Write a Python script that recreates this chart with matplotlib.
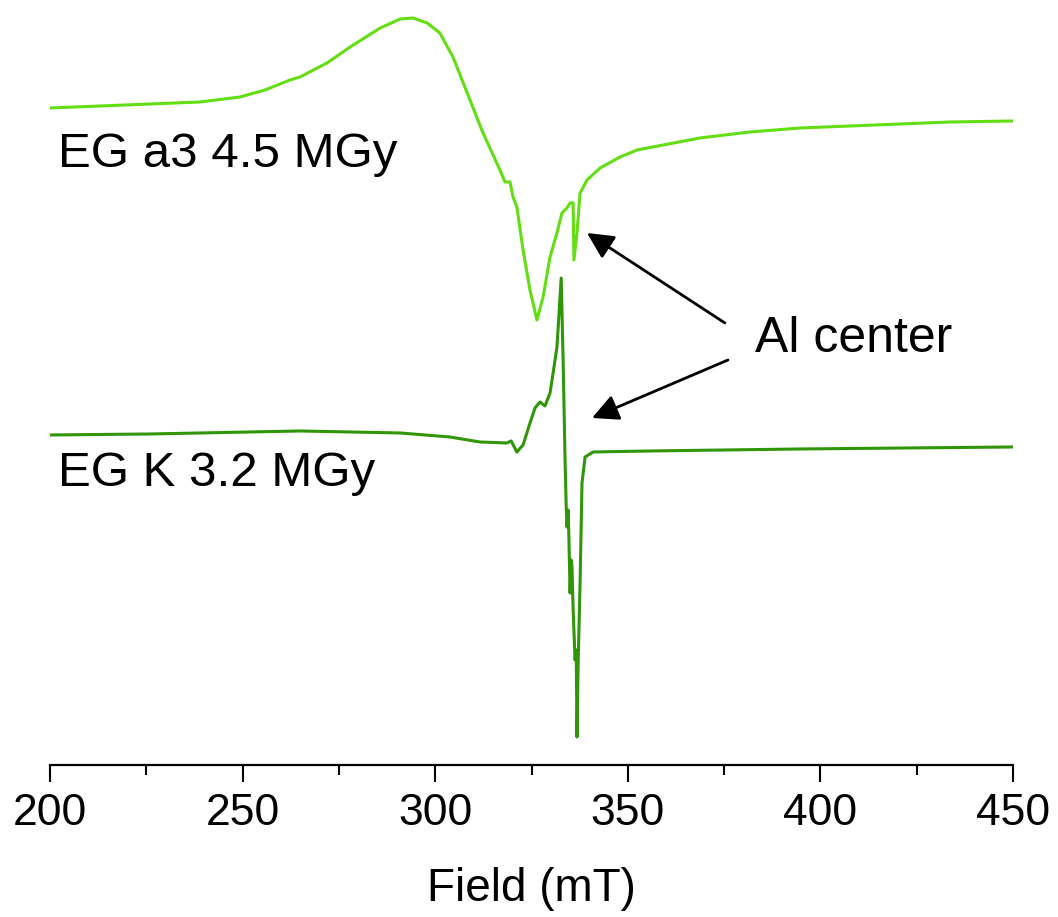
import matplotlib.pyplot as plt

plt.rcParams['font.family'] = ['Liberation Sans', 'DejaVu Sans']

# upper spectrum, EG a3 4.5 MGy (field in mT, intensity in a.u.)
field_a3 = [200.0, 213.0, 226.0, 238.9, 249.3, 255.8, 262.3, 264.9, 271.9, 277.9,
            285.7, 290.9, 294.2, 297.9, 301.2, 304.6, 308.3, 312.4, 316.8, 318.1,
            319.4, 320.2, 321.2, 322.8, 324.6, 326.4, 328.0, 329.8, 331.6, 332.9,
            334.2, 335.0, 335.8, 336.0, 336.8, 337.6, 339.4, 342.8, 348.0, 352.4,
            368.7, 381.7, 394.7, 407.7, 420.7, 433.6, 450.0]
int_a3 = [657, 659, 661, 663, 668, 675, 685, 688, 702, 718,
          737, 746, 747, 742, 732, 708, 672, 632, 595, 583,
          583, 568, 558, 515, 475, 445, 468, 508, 532, 552,
          557, 562, 562, 505, 532, 572, 585, 597, 608, 615,
          627, 633, 637, 639, 641, 643, 644]

# lower spectrum, EG K 3.2 MGy
field_k = [200.0, 226.0, 251.9, 264.9, 290.9, 303.8, 311.6, 318.6, 319.7, 321.2,
           322.8, 324.6, 325.9, 327.2, 328.5, 329.8, 330.6, 331.6, 332.7, 333.2,
           333.7, 334.0, 334.2, 334.5, 334.7, 335.0, 335.3, 335.5, 335.8, 336.3,
           336.6, 336.8, 337.1, 337.6, 338.1, 338.9, 341.0, 355.8, 394.7, 450.0]
int_k = [330, 331, 333, 334, 332, 328, 323, 322, 324, 313,
         320, 342, 357, 363, 359, 372, 392, 418, 487, 405,
         305, 258, 238, 255, 228, 172, 205, 198, 155, 105,
         115, 28, 102, 182, 282, 308, 313, 314, 316, 318]

fig = plt.figure(figsize=(10.58, 9.17), dpi=100)
ax = fig.add_axes([0.0473, 0.1658, 0.9102, 0.8342])

ax.plot(field_a3, int_a3, color='#62de12', lw=2.2)
ax.plot(field_k, int_k, color='#2f9608', lw=2.2)

ax.set_xlim(200, 450)
ax.set_ylim(0, 765)

for s in ['top', 'left', 'right']:
    ax.spines[s].set_visible(False)
ax.spines['bottom'].set_linewidth(1.6)
ax.set_yticks([])
ax.set_xticks([200, 250, 300, 350, 400, 450])
ax.set_xticks([225, 275, 325, 375, 425], minor=True)
ax.tick_params(axis='x', which='major', length=12, width=1.5, labelsize=32, pad=8)
ax.tick_params(axis='x', which='minor', length=7, width=1.5)
ax.set_xlabel('Field (mT)', fontsize=33, labelpad=24)

ax.text(202.1, 610, 'EG a3 4.5 MGy', fontsize=35.5, va='center', ha='left')
ax.text(202.1, 291, 'EG K 3.2 MGy', fontsize=35.5, va='center', ha='left')
ax.text(383.0, 426, 'Al center', fontsize=36, va='center', ha='left')

arrow = dict(arrowstyle='-|>', color='black', lw=2, mutation_scale=40, shrinkA=0, shrinkB=0)
ax.annotate('', xy=(339.4, 532), xytext=(375.2, 442), arrowprops=arrow)
ax.annotate('', xy=(340.7, 347), xytext=(376.0, 405), arrowprops=arrow)

fig.savefig('out.png', dpi=100)
